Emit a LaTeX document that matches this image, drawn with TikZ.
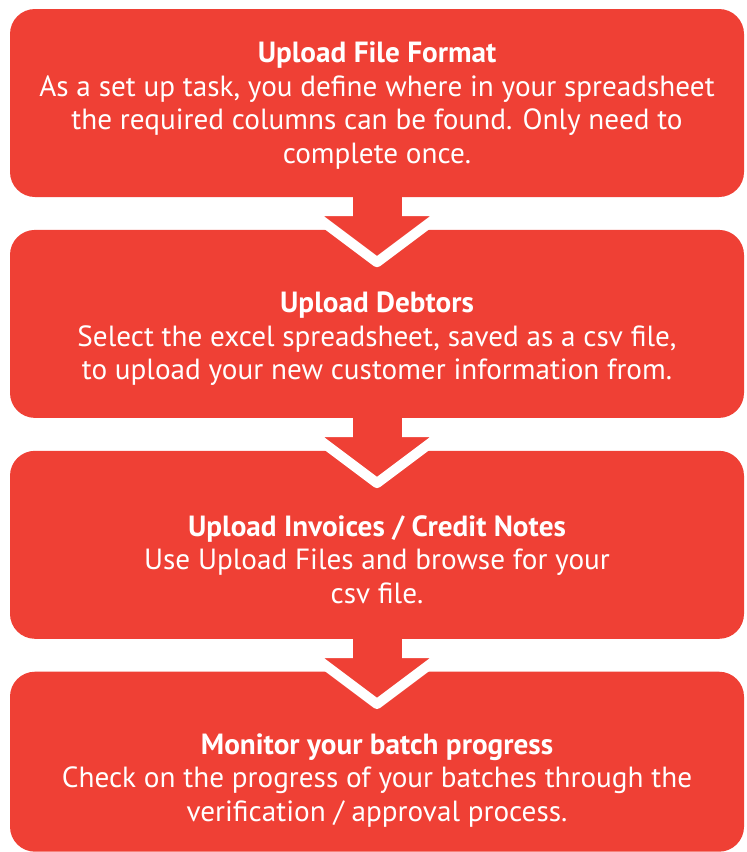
\documentclass[tikz,border=0pt]{standalone}
\usepackage{fontspec}
\setmainfont{PT Sans}
\usetikzlibrary{positioning}

\definecolor{flowred}{RGB}{239,64,53}
\tikzset{
    stage/.style={fill=flowred, rounded corners=25pt, minimum width=734pt,
        minimum height=188pt, inner sep=0pt},
    caption/.style={text=white, align=center, inner sep=0pt,
        font=\fontsize{29.2}{33.5}\selectfont},
    pointer/.style={fill=flowred, draw=white, line width=10pt, line join=round},
}

\begin{document}
\begin{tikzpicture}
    \useasboundingbox (0pt,0pt) rectangle (747pt,-852pt);
    \node[stage]                           (format)   at (377pt,-103pt) {};
    \node[stage, below=32.5pt of format]   (debtors)  {};
    \node[stage, below=32.5pt of debtors]  (invoices) {};
    \node[stage, below=32.5pt of invoices, minimum height=180pt] (monitor) {};
    % arrows between the stages
    \foreach \a in {format, debtors, invoices} {
        \draw[pointer] ([xshift=-68pt,yshift=-14pt]\a.south) -- ([xshift=68pt,yshift=-14pt]\a.south)
            -- ([yshift=-65pt]\a.south) -- cycle;
        \fill[flowred] ([xshift=-24.5pt]\a.south) rectangle ([xshift=24.5pt,yshift=-30pt]\a.south);
    }
    \node[caption] (format-text) at ([yshift=-96.5pt]format.north)
        {\textbf{Upload File Format}\\As a set up task, you define where in your spreadsheet\\the required columns can be found. Only need to\\complete once.};
    \node[caption] (debtors-text) at ([yshift=-109pt]debtors.north)
        {\textbf{Upload Debtors}\\Select the excel spreadsheet, saved as a csv file,\\to upload your new customer information from.};
    \node[caption] (invoices-text) at ([yshift=-109pt]invoices.north)
        {\textbf{Upload Invoices / Credit Notes}\\Use Upload Files and browse for your\\csv file.};
    \node[caption] (monitor-text) at ([yshift=-109pt]monitor.north)
        {\textbf{Monitor your batch progress}\\Check on the progress of your batches through the\\verification / approval process.};
\end{tikzpicture}
\end{document}
